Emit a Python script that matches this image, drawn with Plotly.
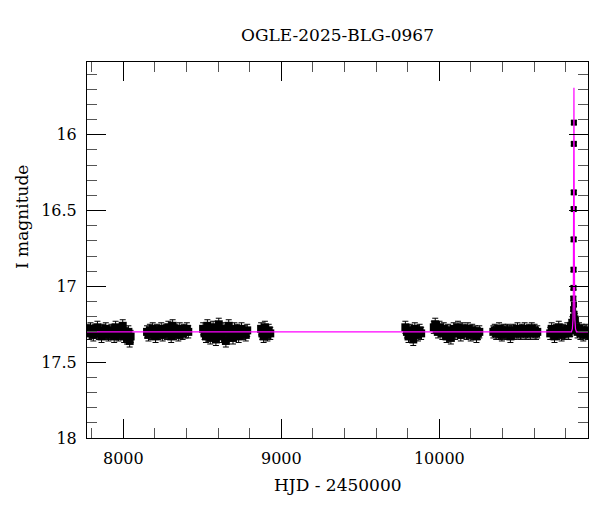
import plotly.graph_objects as go

# ---------------- data ----------------
s1_hjd = [7776, 7784, 7792, 7801, 7810, 7818, 7827, 7836, 7845, 7853, 7862, 7871, 7880, 7889, 7898, 7906,
          7915, 7924, 7933, 7942, 7951, 7960, 7969, 7978, 7987, 7996, 8005, 8014, 8023, 8032, 8040, 8046]
s1_mag = [17.29, 17.31, 17.28, 17.30, 17.32, 17.29, 17.30, 17.27, 17.31, 17.30, 17.33, 17.29, 17.30, 17.28, 17.31, 17.32,
          17.30, 17.29, 17.31, 17.33, 17.27, 17.30, 17.32, 17.31, 17.29, 17.26, 17.33, 17.31, 17.34, 17.30, 17.36, 17.33]

s2_hjd = [8150, 8159, 8168, 8177, 8186, 8195, 8204, 8213, 8222, 8231, 8240, 8249, 8258, 8267, 8276, 8285,
          8294, 8303, 8312, 8321, 8330, 8339, 8348, 8357, 8366, 8375, 8384, 8393, 8402, 8411]
s2_mag = [17.30, 17.32, 17.29, 17.31, 17.28, 17.30, 17.33, 17.29, 17.31, 17.30, 17.28, 17.32, 17.30, 17.29, 17.31, 17.27,
          17.30, 17.33, 17.26, 17.31, 17.29, 17.30, 17.32, 17.28, 17.30, 17.31, 17.29, 17.30, 17.28, 17.30]

s3_hjd = [8505, 8514, 8523, 8532, 8541, 8550, 8559, 8568, 8577, 8586, 8595, 8604, 8613, 8622, 8631, 8640,
          8649, 8658, 8667, 8676, 8685, 8694, 8703, 8712, 8721, 8730, 8739, 8748, 8757, 8766, 8775, 8784]
s3_mag = [17.28, 17.31, 17.33, 17.26, 17.30, 17.34, 17.29, 17.27, 17.32, 17.35, 17.30, 17.25, 17.31, 17.33, 17.28, 17.30,
          17.36, 17.29, 17.26, 17.32, 17.30, 17.34, 17.28, 17.31, 17.29, 17.33, 17.30, 17.28, 17.31, 17.30, 17.32, 17.29]

s4_hjd = [8872, 8880, 8888, 8896, 8904, 8912, 8920, 8930]
s4_mag = [17.28, 17.31, 17.33, 17.27, 17.30, 17.32, 17.29, 17.31]

s5_hjd = [9785, 9795, 9805, 9815, 9825, 9835, 9845, 9855, 9865, 9875, 9885]
s5_mag = [17.27, 17.30, 17.33, 17.29, 17.31, 17.35, 17.28, 17.30, 17.32, 17.29, 17.31]

s6_hjd = [9965, 9974, 9983, 9992, 10001, 10010, 10019, 10028, 10037, 10046, 10055, 10064, 10073, 10082, 10091, 10100,
          10109, 10118, 10127, 10136, 10145, 10154, 10163, 10172, 10181, 10190, 10199, 10208, 10217, 10226, 10235,
          10244, 10253]
s6_mag = [17.27, 17.25, 17.28, 17.30, 17.27, 17.29, 17.31, 17.28, 17.30, 17.33, 17.29, 17.31, 17.34, 17.30, 17.28, 17.31,
          17.29, 17.27, 17.30, 17.32, 17.28, 17.30, 17.29, 17.31, 17.28, 17.30, 17.32, 17.29, 17.31, 17.30, 17.33,
          17.31, 17.30]

s7_hjd = [10342, 10351, 10360, 10369, 10378, 10387, 10396, 10405, 10414, 10423, 10432, 10441, 10450, 10459, 10468, 10477,
          10486, 10495, 10504, 10513, 10522, 10531, 10540, 10549, 10558, 10567, 10576, 10585, 10594, 10603, 10612, 10620]
s7_mag = [17.30, 17.29, 17.31, 17.30, 17.28, 17.31, 17.32, 17.29, 17.30, 17.31, 17.29, 17.30, 17.33, 17.30, 17.29, 17.31,
          17.30, 17.28, 17.30, 17.31, 17.29, 17.30, 17.28, 17.31, 17.30, 17.29, 17.31, 17.28, 17.30, 17.29, 17.31, 17.30]

s8_hjd = [10702, 10711, 10720, 10729, 10738, 10747, 10756, 10765, 10774, 10783, 10792, 10801, 10810, 10819, 10828, 10836,
          10842, 10858, 10866, 10875, 10884, 10893, 10902, 10911, 10920, 10929, 10938]
s8_mag = [17.31, 17.28, 17.30, 17.33, 17.29, 17.31, 17.27, 17.30, 17.32, 17.29, 17.31, 17.30, 17.28, 17.31, 17.29, 17.26,
          17.24, 17.22, 17.27, 17.30, 17.28, 17.31, 17.29, 17.32, 17.30, 17.29, 17.31]

peak_hjd = [10846, 10847, 10848, 10849, 10849.5, 10850, 10850.5, 10851, 10851.3, 10851.7, 10852, 10855]
peak_mag = [17.20, 17.15, 17.08, 17.01, 16.89, 16.69, 16.49, 16.38, 16.06, 15.92, 17.12, 17.18]

model_hjd = [7770, 10836, 10842, 10846, 10848, 10849.5, 10850.5, 10851.5, 10852, 10852.5, 10853.5, 10854.5,
             10856, 10858, 10862, 10868, 10941]
model_mag = [17.30, 17.30, 17.28, 17.22, 17.10, 16.80, 16.30, 15.85, 15.69, 15.85, 16.30, 16.80,
             17.10, 17.22, 17.28, 17.30, 17.30]

base_err = 0.04
peak_err = 0.012

title_text = "OGLE-2025-BLG-0967"
x_title = "HJD - 2450000"
y_title = "I magnitude"
y_tickvals = [16, 16.5, 17, 17.5, 18]
y_ticktext = ["16", "16.5", "17", "17.5", "18"]
x_tickvals = [8000, 9000, 10000]
x_ticktext = ["8000", "9000", "10000"]

# ---------------- figure ----------------
FONT = "DejaVu Serif"
W, H = 592, 504   # page adds an 8px body margin
L, R, T, B = 79, 12, 54, 74
PW, PH = W - L - R, H - T - B

fig = go.Figure()

base_hjd = s1_hjd + s2_hjd + s3_hjd + s4_hjd + s5_hjd + s6_hjd + s7_hjd + s8_hjd
base_mag = s1_mag + s2_mag + s3_mag + s4_mag + s5_mag + s6_mag + s7_mag + s8_mag

fig.add_trace(go.Scatter(
    x=base_hjd, y=base_mag, mode="markers",
    marker=dict(symbol="square", size=8, color="black", line=dict(width=0)),
    error_y=dict(type="constant", value=base_err, color="black", thickness=1, width=3),
    showlegend=False, hoverinfo="skip"))

fig.add_trace(go.Scatter(
    x=peak_hjd, y=peak_mag, mode="markers",
    marker=dict(symbol="square", size=6, color="black", line=dict(width=0)),
    error_y=dict(type="constant", value=peak_err, color="black", thickness=1, width=3),
    showlegend=False, hoverinfo="skip"))

fig.add_trace(go.Scatter(
    x=model_hjd, y=model_mag, mode="lines",
    line=dict(color="#ff00ff", width=1.2),
    showlegend=False, hoverinfo="skip"))

axis_common = dict(
    showline=True, linecolor="black", linewidth=1, mirror="ticks",
    ticks="inside", ticklen=19, tickwidth=1, tickcolor="black",
    showgrid=False, zeroline=False,
    tickfont=dict(family=FONT, size=16, color="black"),
)

fig.update_xaxes(
    range=[7770, 10941], tickmode="array", tickvals=x_tickvals, ticktext=x_ticktext,
    minor=dict(ticks="inside", ticklen=10, tickwidth=1, tickcolor="#555555", tick0=8000, dtick=200),
    ticklabelstandoff=6,
    **axis_common)

fig.update_yaxes(
    range=[18, 15.52], tickmode="array", tickvals=y_tickvals, ticktext=y_ticktext,
    minor=dict(ticks="inside", ticklen=10, tickwidth=1, tickcolor="#555555", tick0=16, dtick=0.1),
    ticklabelstandoff=6,
    **axis_common)

fig.update_layout(
    width=W, height=H,
    margin=dict(l=L, r=R, t=T, b=B),
    paper_bgcolor="white", plot_bgcolor="white",
    title=dict(text=title_text, x=(337.5 - 8) / W, xanchor="center", y=1 - (35 - 8) / H, yanchor="middle",
               font=dict(family=FONT, size=17, color="black")),
    annotations=[
        dict(text=x_title, xref="paper", yref="paper", x=0.5, y=(438 - 485) / PH,
             xanchor="center", yanchor="middle", showarrow=False,
             font=dict(family=FONT, size=17, color="black")),
        dict(text=y_title, xref="paper", yref="paper", x=(22 - 87) / PW, y=(438 - 217) / PH,
             xanchor="center", yanchor="middle", textangle=-90, showarrow=False,
             font=dict(family=FONT, size=17, color="black")),
    ],
)

fig.write_html("out.html")
